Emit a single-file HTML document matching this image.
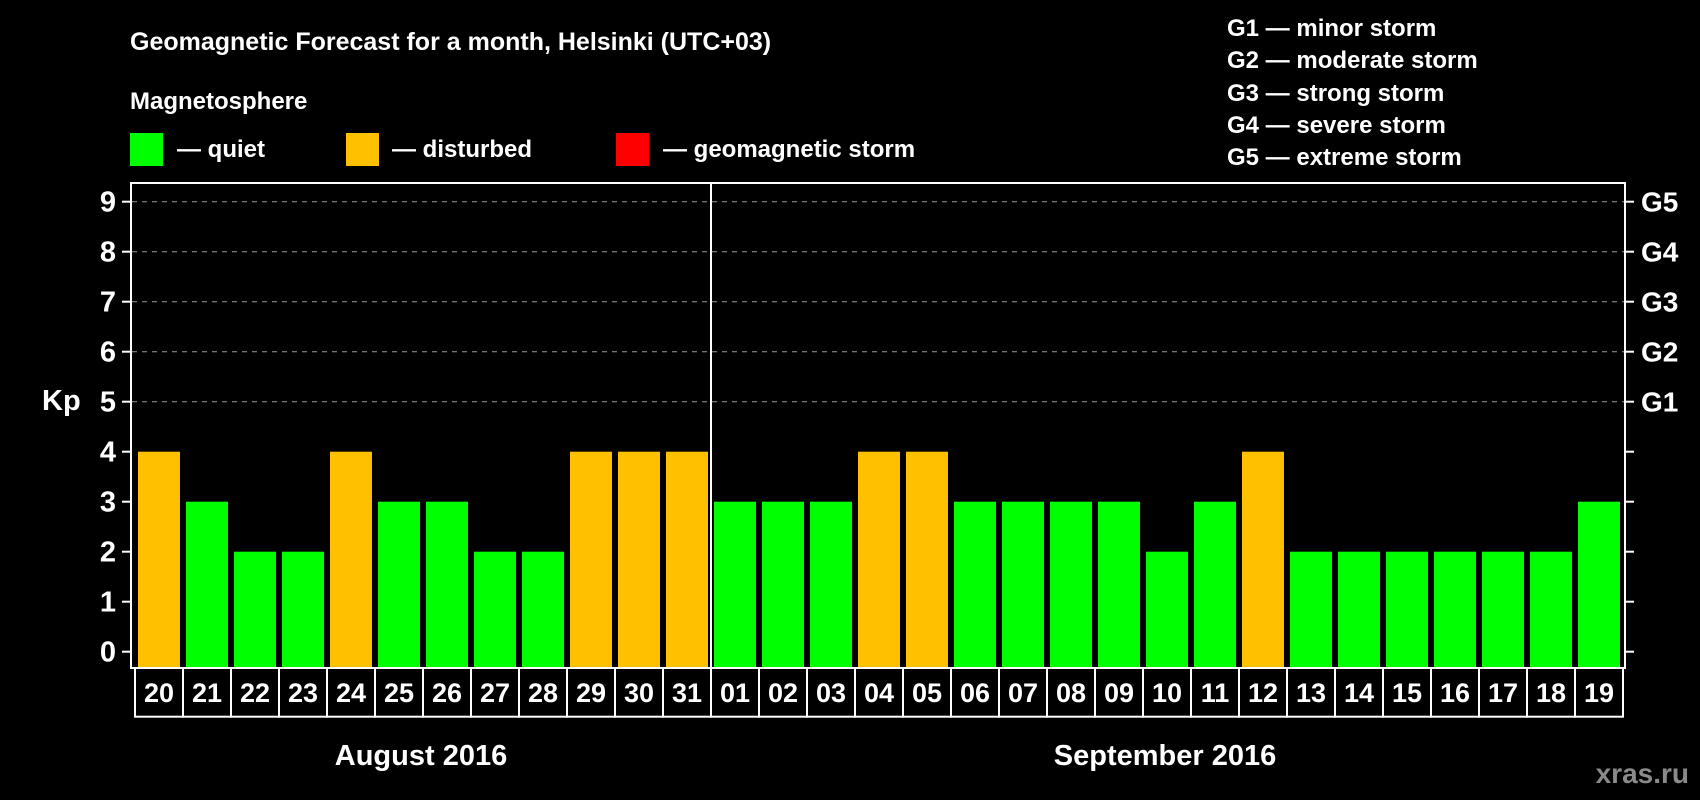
<!DOCTYPE html>
<html><head><meta charset="utf-8"><style>
html,body{margin:0;padding:0;background:#000;}
svg{display:block;font-family:"Liberation Sans",Arial,sans-serif;font-weight:bold;}
</style></head><body>
<svg id="chart" width="1700" height="800" viewBox="0 0 1700 800">
<rect x="0" y="0" width="1700" height="800" fill="#000"/>
<text x="130" y="50" fill="#fff" font-size="25">Geomagnetic Forecast for a month, Helsinki (UTC+03)</text>
<text x="130" y="109" fill="#fff" font-size="24">Magnetosphere</text>
<g>
<rect x="130" y="133" width="33" height="33" fill="#00ff00"/>
<text x="177" y="157" fill="#fff" font-size="24">— quiet</text>
<rect x="346" y="133" width="33" height="33" fill="#ffc000"/>
<text x="392" y="157" fill="#fff" font-size="24">— disturbed</text>
<rect x="616" y="133" width="33" height="33" fill="#ff0000"/>
<text x="663" y="157" fill="#fff" font-size="24">— geomagnetic storm</text>
</g>
<g fill="#fff" font-size="24">
<text x="1227" y="36">G1 — minor storm</text>
<text x="1227" y="68">G2 — moderate storm</text>
<text x="1227" y="101">G3 — strong storm</text>
<text x="1227" y="133">G4 — severe storm</text>
<text x="1227" y="165">G5 — extreme storm</text>
</g>
<g id="grid"></g>
<g id="bars"></g>
<rect x="131" y="183" width="1494" height="485" fill="none" stroke="#fff" stroke-width="2"/>
<line x1="711" y1="183" x2="711" y2="668" stroke="#fff" stroke-width="2"/>
<g id="axes"></g>
<g id="xlabels"></g>
<text x="42" y="410" fill="#fff" font-size="29">Kp</text>
<text x="421" y="765" fill="#fff" font-size="29" text-anchor="middle">August 2016</text>
<text x="1165" y="765" fill="#fff" font-size="29" text-anchor="middle">September 2016</text>
<text x="1689" y="783" fill="#8a8a8a" font-size="28" text-anchor="end">xras.ru</text>
</svg>
<script>
const days = ["20","21","22","23","24","25","26","27","28","29","30","31","01","02","03","04","05","06","07","08","09","10","11","12","13","14","15","16","17","18","19"];
const kpValues = [4,3,2,2,4,3,3,2,2,4,4,4,3,3,3,4,4,3,3,3,3,2,3,4,2,2,2,2,2,2,3];
const yTicks = [0,1,2,3,4,5,6,7,8,9];
const gLabels = ["G1","G2","G3","G4","G5"];
const gLevels = [5,6,7,8,9];

const NS = "http://www.w3.org/2000/svg";
const y0 = 651.7, unit = 50, plotBottom = 668, firstX = 138, pitch = 48, barW = 42;
function yScale(v){ return y0 - v*unit; }
function xScale(i){ return firstX + i*pitch; }
function mk(tag, attrs, parent){ const e=document.createElementNS(NS,tag); for(const k in attrs) e.setAttribute(k,attrs[k]); parent.appendChild(e); return e; }
const grid=document.getElementById('grid'), bars=document.getElementById('bars'), axes=document.getElementById('axes'), xl=document.getElementById('xlabels');

gLevels.forEach(function(v){
  const l=mk('line',{x1:132,x2:1624,y1:yScale(v),y2:yScale(v),stroke:'#999','stroke-width':1,'stroke-dasharray':'5,5'},grid);
  
  
});
yTicks.forEach(function(v){
  const y=yScale(v);
  const t=mk('line',{x1:122,x2:131,y1:y,y2:y,stroke:'#fff','stroke-width':2},axes);
  
  
  const t2=mk('line',{x1:1625,x2:1634,y1:y,y2:y,stroke:'#fff','stroke-width':2},axes);
  
  
  const tx=mk('text',{x:116,y:y+10,fill:'#fff','font-size':29,'text-anchor':'end'},axes);
  tx.textContent=String(v);
  
  
});
gLabels.forEach(function(g,i){
  const tx=mk('text',{x:1641,y:yScale(gLevels[i])+10,fill:'#fff','font-size':28},axes);
  tx.textContent=g;
  
  
});
kpValues.forEach(function(v,i){
  const col = v>=5 ? '#ff0000' : (v>=4 ? '#ffc000' : '#00ff00');
  const top=yScale(v);
  const r=mk('rect',{x:xScale(i),y:top,width:barW,height:plotBottom-top,fill:col},bars);
  
  
});
days.forEach(function(d,i){
  const bx=xScale(i)-3;
  const c=mk('rect',{x:bx,y:668,width:pitch,height:48.7,fill:'none',stroke:'#fff','stroke-width':2},xl);
  
  
  const t=mk('text',{x:bx+pitch/2,y:702,fill:'#fff','font-size':27,'text-anchor':'middle'},xl);
  t.textContent=d;
  
  
});
</script>
</body></html>
